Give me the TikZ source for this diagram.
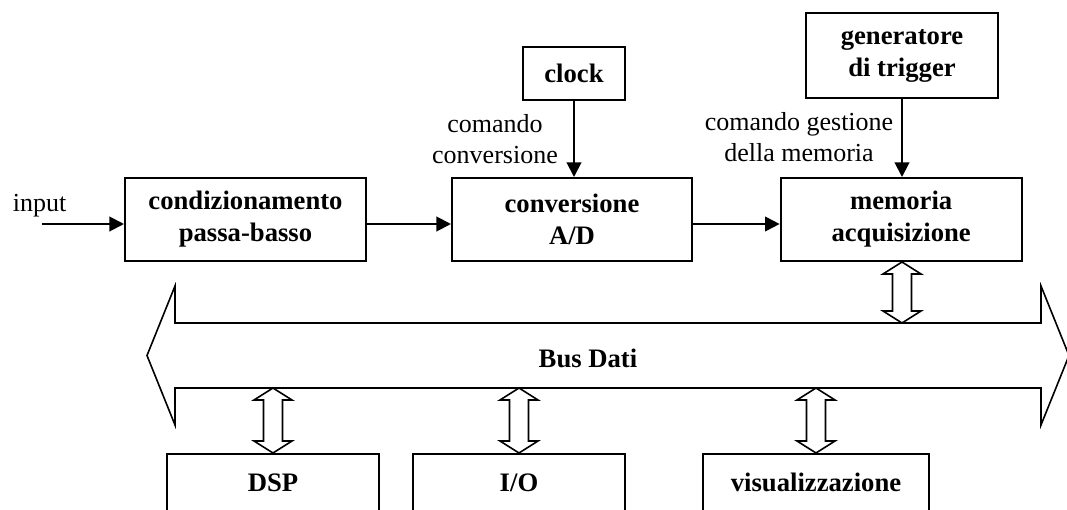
\documentclass[tikz,border=0pt]{standalone}
\usepackage{fontspec}
\setmainfont{Liberation Serif}
\usepackage{tikz}
\usetikzlibrary{positioning}
\usetikzlibrary{calc}
\usetikzlibrary{arrows.meta}

\newcommand{\plainfont}{\fontsize{19.5}{23}\selectfont}
\newcommand{\boldfont}{\fontsize{20}{24}\selectfont\bfseries}

% hollow double arrow between two points, #1 on top, #2 below
\newcommand{\hollowarrow}[2]{%
  \draw[hollow] (#1) -- ($(#1)+(19,12)$) -- ($(#1)+(9.5,12)$)
    -- ($(#2)+(9.5,-12)$) -- ($(#2)+(19,-12)$) -- (#2)
    -- ($(#2)+(-19,-12)$) -- ($(#2)+(-9.5,-12)$)
    -- ($(#1)+(-9.5,12)$) -- ($(#1)+(-19,12)$) -- cycle;}

\begin{document}
\begin{tikzpicture}[
            x = 0.75pt, y = -0.75pt, % pixel grid, y pointing down
            > = {Triangle[length=11pt,width=11pt]}, % arrow head style
            line width = 1.5pt, % line style
            font = \plainfont
        ]

        \tikzstyle{block}=[
            draw,
            line width = 1.5pt,
            align = center,
            inner sep = 0pt,
            font = \boldfont
        ]
        \tikzstyle{lowblock}=[
            block,
            anchor = north,
            text height = 14pt,
            text depth = 80pt,
            inner ysep = 13.75pt
        ]
        \tikzstyle{hollow}=[draw, fill = white, line width = 1.2pt, line join = miter]

        \useasboundingbox (0,0) rectangle (1067,510);
        \clip (0,0) rectangle (1067,510);

        % acquisition chain
        \node[block, minimum width = 180.75pt, minimum height = 62.25pt] (cond) at (245.5,219.5) {condizionamento\\passa-basso};
        \node[block, minimum width = 180pt, minimum height = 62.25pt] (conv) [right = 63pt of cond] {conversione\\A/D};
        \node[block, minimum width = 180.75pt, minimum height = 62.25pt] (mem) [right = 65pt of conv] {memoria\\acquisizione};

        \coordinate (in) at (42,224);
        \node (input) [anchor = base] at (39.5,211) {input};

        \path[->] (in) edge (cond.west |- in);
        \path[->] (cond.east |- in) edge (conv.west |- in);
        \path[->] (conv.east |- in) edge (mem.west |- in);

        % command sources
        \node[block, minimum width = 76.5pt, minimum height = 39.75pt] (clock) at (574,73.5) {clock};
        \node[block, minimum width = 144pt, minimum height = 63.75pt] (gen) at (902,55.5) {generatore\\di trigger};

        \path[->] (clock.south) edge (clock.south |- conv.north);
        \path[->] (gen.south) edge (gen.south |- mem.north);

        \node (cmdconv) [align = center] at (495,139) {comando\\conversione};
        \node (cmdmem) [align = center] at (799,137) {comando gestione\\della memoria};

        % data bus
        \draw[hollow] (147,355.5) -- (175,286) -- (175,323) -- (1041,323) -- (1041,286)
            -- (1069,355.5) -- (1041,425) -- (1041,388) -- (175,388) -- (175,425) -- cycle;
        \node (bus) [font = \boldfont] at (588,358) {Bus Dati};

        \coordinate (bustop) at (0,323);
        \coordinate (busbot) at (0,388);

        % peripherals
        \node[lowblock, minimum width = 159pt] (dsp) at (273,453) {DSP};
        \node[lowblock, minimum width = 159pt] (io) at (519,453) {I/O};
        \node[lowblock, minimum width = 169.5pt] (vis) at (816,453) {visualizzazione};

        \coordinate (memport) at (gen.south |- mem.south);
        \hollowarrow{memport}{memport |- bustop}
        \hollowarrow{dsp.north |- busbot}{dsp.north}
        \hollowarrow{io.north |- busbot}{io.north}
        \hollowarrow{vis.north |- busbot}{vis.north}

\end{tikzpicture}
\end{document}
